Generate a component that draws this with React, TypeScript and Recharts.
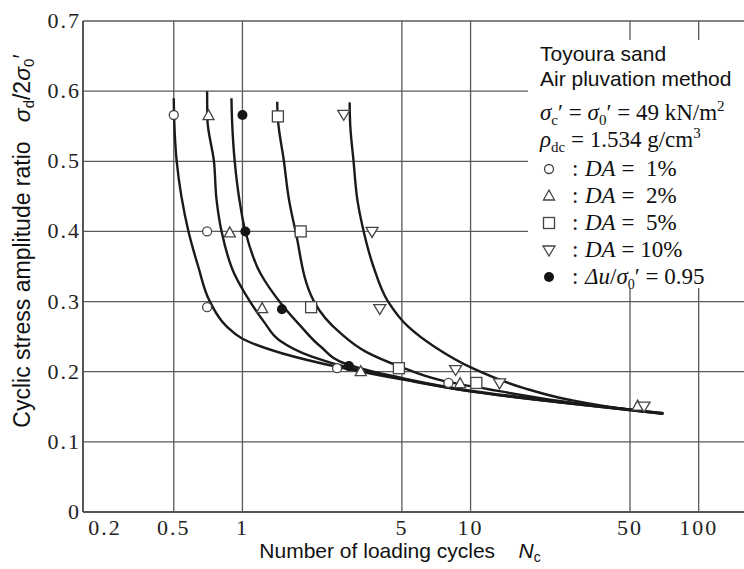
import React from 'react';
import { ComposedChart, Line, Scatter, XAxis, YAxis, CartesianGrid } from 'recharts';

const xTicks = [0.2, 0.5, 1, 5, 10, 50, 100];
const yTicks = [0, 0.1, 0.2, 0.3, 0.4, 0.5, 0.6, 0.7];

// fitted curves (Nc, stress ratio)
const curveANc = [0.5, 0.502, 0.515, 0.54, 0.58, 0.64, 0.72, 0.85, 1.0, 1.5, 2.6, 5, 10, 25, 70];
const curveARatio = [0.59, 0.56, 0.5, 0.45, 0.4, 0.35, 0.3, 0.265, 0.247, 0.226, 0.207, 0.189, 0.172, 0.156, 0.14];

const curveBNc = [0.7, 0.702, 0.75, 0.77, 0.81, 0.92, 1.08, 1.25, 1.45, 2.0, 3.0, 5, 10, 25, 70];
const curveBRatio = [0.6, 0.56, 0.5, 0.445, 0.4, 0.34, 0.3, 0.27, 0.245, 0.222, 0.205, 0.19, 0.172, 0.156, 0.14];

const curveCNc = [0.895, 0.9, 0.925, 0.97, 1.03, 1.2, 1.47, 1.8, 2.2, 2.9, 5, 10, 25, 70];
const curveCRatio = [0.59, 0.56, 0.5, 0.445, 0.4, 0.34, 0.298, 0.265, 0.236, 0.21, 0.191, 0.173, 0.157, 0.141];

const curveDNc = [1.42, 1.43, 1.52, 1.6, 1.71, 2.06, 2.69, 3.5, 4.85, 7.6, 12, 25, 60];
const curveDRatio = [0.585, 0.56, 0.5, 0.445, 0.4, 0.3, 0.255, 0.228, 0.208, 0.187, 0.175, 0.158, 0.143];

const curveENc = [2.95, 2.97, 3.07, 3.19, 3.4, 3.75, 4.35, 5.3, 7.0, 10.2, 17, 27, 50, 70];
const curveERatio = [0.584, 0.55, 0.5, 0.445, 0.4, 0.35, 0.3, 0.265, 0.235, 0.205, 0.177, 0.16, 0.146, 0.141];

// test results
const da1Nc = [0.5, 0.7, 0.7, 2.6, 8.0];
const da1Ratio = [0.566, 0.4, 0.292, 0.205, 0.184];
const da2Nc = [0.71, 0.88, 1.22, 3.3, 9.0, 54];
const da2Ratio = [0.565, 0.398, 0.29, 0.2, 0.183, 0.151];
const da5Nc = [1.43, 1.8, 2.0, 4.85, 10.6];
const da5Ratio = [0.564, 0.4, 0.292, 0.205, 0.184];
const da10Nc = [2.78, 3.7, 4.0, 8.6, 13.4, 57.6];
const da10Ratio = [0.567, 0.4, 0.29, 0.203, 0.184, 0.151];
const porePressNc = [1.0, 1.03, 1.49, 2.93];
const porePressRatio = [0.566, 0.4, 0.289, 0.208];

const toPoints = (nc: number[], ratio: number[]) => nc.map((x, i) => ({ x, y: ratio[i] }));

const serif = '"Liberation Serif", "DejaVu Serif", serif';
const sans = '"Liberation Sans", Arial, sans-serif';
const markStroke = '#444';

const OpenCircle = ({ cx, cy }: any) => <circle cx={cx} cy={cy} r={4.5} fill="#fff" stroke={markStroke} strokeWidth={1.3} />;
const TriUp = ({ cx, cy }: any) => (
    <polygon points={`${cx},${cy - 6} ${cx - 5.5},${cy + 4} ${cx + 5.5},${cy + 4}`} fill="#fff" stroke={markStroke} strokeWidth={1.3} />
);
const OpenSquare = ({ cx, cy }: any) => <rect x={cx - 5.5} y={cy - 5.5} width={11} height={11} fill="#fff" stroke={markStroke} strokeWidth={1.3} />;
const TriDown = ({ cx, cy }: any) => (
    <polygon points={`${cx - 6},${cy - 4} ${cx + 6},${cy - 4} ${cx},${cy + 6}`} fill="#fff" stroke={markStroke} strokeWidth={1.3} />
);
const FilledDot = ({ cx, cy }: any) => <circle cx={cx} cy={cy} r={5} fill="#151515" />;

const XTick = ({ x, y, payload }: any) => (
    <text x={x + (payload.value === 0.2 ? 22 : 0)} y={y} dy={23} textAnchor="middle" fontFamily={serif} fontSize={22} letterSpacing={2} fill="#222">
        {payload.value}
    </text>
);

const YTick = ({ x, y, payload }: any) => (
    <text x={x - 2} y={y} dy={7} textAnchor="end" fontFamily={serif} fontSize={22} letterSpacing={2} fill="#222">
        {payload.value === 0 ? '0' : payload.value.toFixed(1)}
    </text>
);

const curveStyle = { stroke: '#1a1a1a', strokeWidth: 2.4 };

const Overlay = () => {
    const rows = [
        { Mark: OpenCircle, y: 176, text: <><tspan fontStyle="italic">DA</tspan> =  1%</> },
        { Mark: TriUp, y: 203, text: <><tspan fontStyle="italic">DA</tspan> =  2%</> },
        { Mark: OpenSquare, y: 230, text: <><tspan fontStyle="italic">DA</tspan> =  5%</> },
        { Mark: TriDown, y: 257, text: <><tspan fontStyle="italic">DA</tspan> = 10%</> },
        {
            Mark: FilledDot, y: 284, text: (
                <><tspan fontStyle="italic">Δu</tspan>/<tspan fontStyle="italic">σ</tspan><tspan fontSize={14} dy={5}>0</tspan><tspan dy={-5}>′</tspan> = 0.95</>
            )
        },
    ];
    return (
        <svg width={744} height={569} style={{ position: 'absolute', left: 0, top: 0, pointerEvents: 'none' }}>
            <rect x={528} y={40} width={216} height={248} fill="#fff" />
            <g fontFamily={sans} fontSize={21} fill="#111">
                <text x={540} y={61}>Toyoura sand</text>
                <text x={540} y={86}>Air pluvation method</text>
            </g>
            <g fontFamily={serif} fontSize={23} fill="#111">
                <text x={540} y={120} xmlSpace="preserve">
                    <tspan fontStyle="italic">σ</tspan><tspan fontSize={15} dy={5}>c</tspan><tspan dy={-5}>′ = </tspan><tspan fontStyle="italic">σ</tspan><tspan fontSize={15} dy={5}>0</tspan><tspan dy={-5}>′ = 49 kN/m</tspan><tspan fontSize={15} dy={-9}>2</tspan>
                </text>
                <text x={540} y={147} xmlSpace="preserve">
                    <tspan fontStyle="italic">ρ</tspan><tspan fontSize={15} dy={5}>dc</tspan><tspan dy={-5}> = 1.534 g/cm</tspan><tspan fontSize={15} dy={-9}>3</tspan>
                </text>
                {rows.map(({ Mark, y, text }, i) => (
                    <g key={i}>
                        <Mark cx={549} cy={y - 7} />
                        <text x={572} y={y}>:</text>
                        <text x={585} y={y} xmlSpace="preserve">{text}</text>
                    </g>
                ))}
            </g>
            <text transform="translate(30,241) rotate(-90)" textAnchor="middle" fontFamily={sans} fontSize={23} fill="#111" xmlSpace="preserve">
                Cyclic stress amplitude ratio   <tspan fontStyle="italic">σ</tspan><tspan fontSize={15} dy={4}>d</tspan><tspan dy={-4}>/2</tspan><tspan fontStyle="italic">σ</tspan><tspan fontSize={15} dy={4}>0</tspan><tspan dy={-4}>′</tspan>
            </text>
            <text x={400} y={558} textAnchor="middle" fontFamily={sans} fontSize={21} fill="#111" xmlSpace="preserve">
                Number of loading cycles    <tspan fontStyle="italic">N</tspan><tspan fontSize={14} dy={4}>c</tspan>
            </text>
        </svg>
    );
};

export default function App() {
    return (
        <div style={{ position: 'absolute', left: 0, top: 0, width: 744, height: 569, background: '#fff' }}>
            <ComposedChart width={744} height={569} margin={{ top: 21, right: 0, bottom: 17, left: 0 }}>
                <CartesianGrid stroke="#5a5a5a" strokeWidth={1.3} verticalValues={xTicks} horizontalValues={yTicks} />
                <XAxis
                    dataKey="x"
                    type="number"
                    scale="log"
                    domain={[0.2, 158]}
                    allowDataOverflow
                    ticks={xTicks}
                    tick={<XTick />}
                    tickLine={false}
                    tickSize={0}
                    tickMargin={0}
                    height={40}
                    axisLine={{ stroke: '#555', strokeWidth: 2 }}
                />
                <YAxis
                    dataKey="y"
                    type="number"
                    domain={[0, 0.7]}
                    ticks={yTicks}
                    tick={<YTick />}
                    tickLine={false}
                    tickSize={0}
                    tickMargin={0}
                    width={83}
                    axisLine={{ stroke: '#555', strokeWidth: 2 }}
                />
                <Line data={toPoints(curveANc, curveARatio)} dataKey="y" type="monotoneY" dot={false} {...curveStyle} isAnimationActive={false} />
                <Line data={toPoints(curveBNc, curveBRatio)} dataKey="y" type="monotoneY" dot={false} {...curveStyle} isAnimationActive={false} />
                <Line data={toPoints(curveCNc, curveCRatio)} dataKey="y" type="monotoneY" dot={false} {...curveStyle} isAnimationActive={false} />
                <Line data={toPoints(curveDNc, curveDRatio)} dataKey="y" type="monotoneY" dot={false} {...curveStyle} isAnimationActive={false} />
                <Line data={toPoints(curveENc, curveERatio)} dataKey="y" type="monotoneY" dot={false} {...curveStyle} isAnimationActive={false} />
                <Scatter data={toPoints(da1Nc, da1Ratio)} shape={OpenCircle} isAnimationActive={false} />
                <Scatter data={toPoints(da2Nc, da2Ratio)} shape={TriUp} isAnimationActive={false} />
                <Scatter data={toPoints(da5Nc, da5Ratio)} shape={OpenSquare} isAnimationActive={false} />
                <Scatter data={toPoints(da10Nc, da10Ratio)} shape={TriDown} isAnimationActive={false} />
                <Scatter data={toPoints(porePressNc, porePressRatio)} shape={FilledDot} isAnimationActive={false} />
            </ComposedChart>
            <Overlay />
        </div>
    );
}
